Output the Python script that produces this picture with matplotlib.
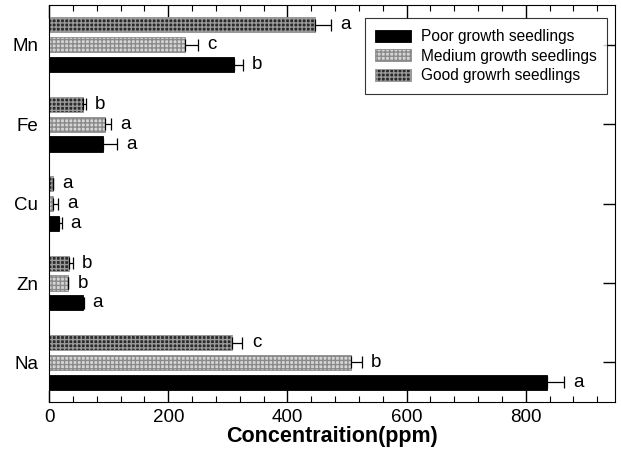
import numpy as np
import matplotlib
matplotlib.use("Agg")
import matplotlib.pyplot as plt
from matplotlib.ticker import MultipleLocator

plt.rcParams['font.family'] = ['Liberation Sans', 'DejaVu Sans']

############################
# DATA
############################
elements = ["Na", "Zn", "Cu", "Fe", "Mn"]          # bottom -> top
series = ["Poor growth seedlings", "Medium growth seedlings", "Good growrh seedlings"]

poor = [835, 56, 17, 90, 311]
poor_err = [29, 2, 4, 24, 14]
poor_lbl = ["a", "a", "a", "a", "b"]

medium = [506, 32, 7, 94, 228]
medium_err = [19, 0, 8, 10, 22]
medium_lbl = ["b", "b", "a", "a", "c"]

good = [307, 34, 7, 56, 446]
good_err = [17, 6, 0, 6, 27]
good_lbl = ["c", "b", "a", "b", "a"]

############################
# PLOT
############################
fig, ax = plt.subplots(figsize=(6.22, 4.57), dpi=100)
fig.subplots_adjust(left=0.079, right=0.989, top=0.989, bottom=0.12)

y = np.arange(len(elements))
h = 0.19
off = 0.25

styles = [
    dict(color="black", edgecolor="black", hatch=None),
    dict(color="#d6d6d6", edgecolor="#8a8a8a", hatch="++++"),
    dict(color="#2a2a2a", edgecolor="#9a9a9a", hatch="++++"),
]
data = [(poor, poor_err, poor_lbl, -off),
        (medium, medium_err, medium_lbl, 0.0),
        (good, good_err, good_lbl, off)]

handles = []
for (vals, errs, lbls, dy), st, name in zip(data, styles, series):
    bars = ax.barh(y + dy, vals, height=h, color=st["color"],
                   edgecolor=st["edgecolor"], hatch=st["hatch"],
                   linewidth=0.6, label=name, zorder=2)
    handles.append(bars)
    ax.errorbar(vals, y + dy, xerr=[np.zeros(len(vals)), errs], fmt="none",
                ecolor="black", elinewidth=0.9, capsize=4, capthick=0.9, zorder=3)
    for v, e, l, yy in zip(vals, errs, lbls, y + dy):
        ax.text(v + e + 24, yy, l, ha="center", va="center", fontsize=13.5)

ax.set_xlim(0, 950)
ax.set_ylim(-0.5, 4.5)
ax.set_yticks(y)
ax.set_yticklabels(elements, fontsize=13.5)
ax.xaxis.set_major_locator(MultipleLocator(200))
ax.xaxis.set_minor_locator(MultipleLocator(40))
ax.tick_params(axis="x", labelsize=13.5, pad=5)
ax.tick_params(axis="y", pad=8)
ax.tick_params(which="both", direction="in", top=True, right=True)
ax.tick_params(which="major", length=9, width=1)
ax.tick_params(which="minor", length=4, width=0.8)
ax.tick_params(axis="y", which="both", left=False)
ax.set_xlabel("Concentraition(ppm)", fontsize=15.5, fontweight="bold", labelpad=0)

leg = ax.legend(handles=handles, loc="upper right", bbox_to_anchor=(0.986, 0.967),
                fontsize=11.2, frameon=True, fancybox=False, edgecolor="black",
                handlelength=2.3, handleheight=0.8, handletextpad=0.6,
                borderpad=0.7, labelspacing=0.3, borderaxespad=0)
leg.get_frame().set_linewidth(0.8)

fig.savefig("out.png", dpi=100)
